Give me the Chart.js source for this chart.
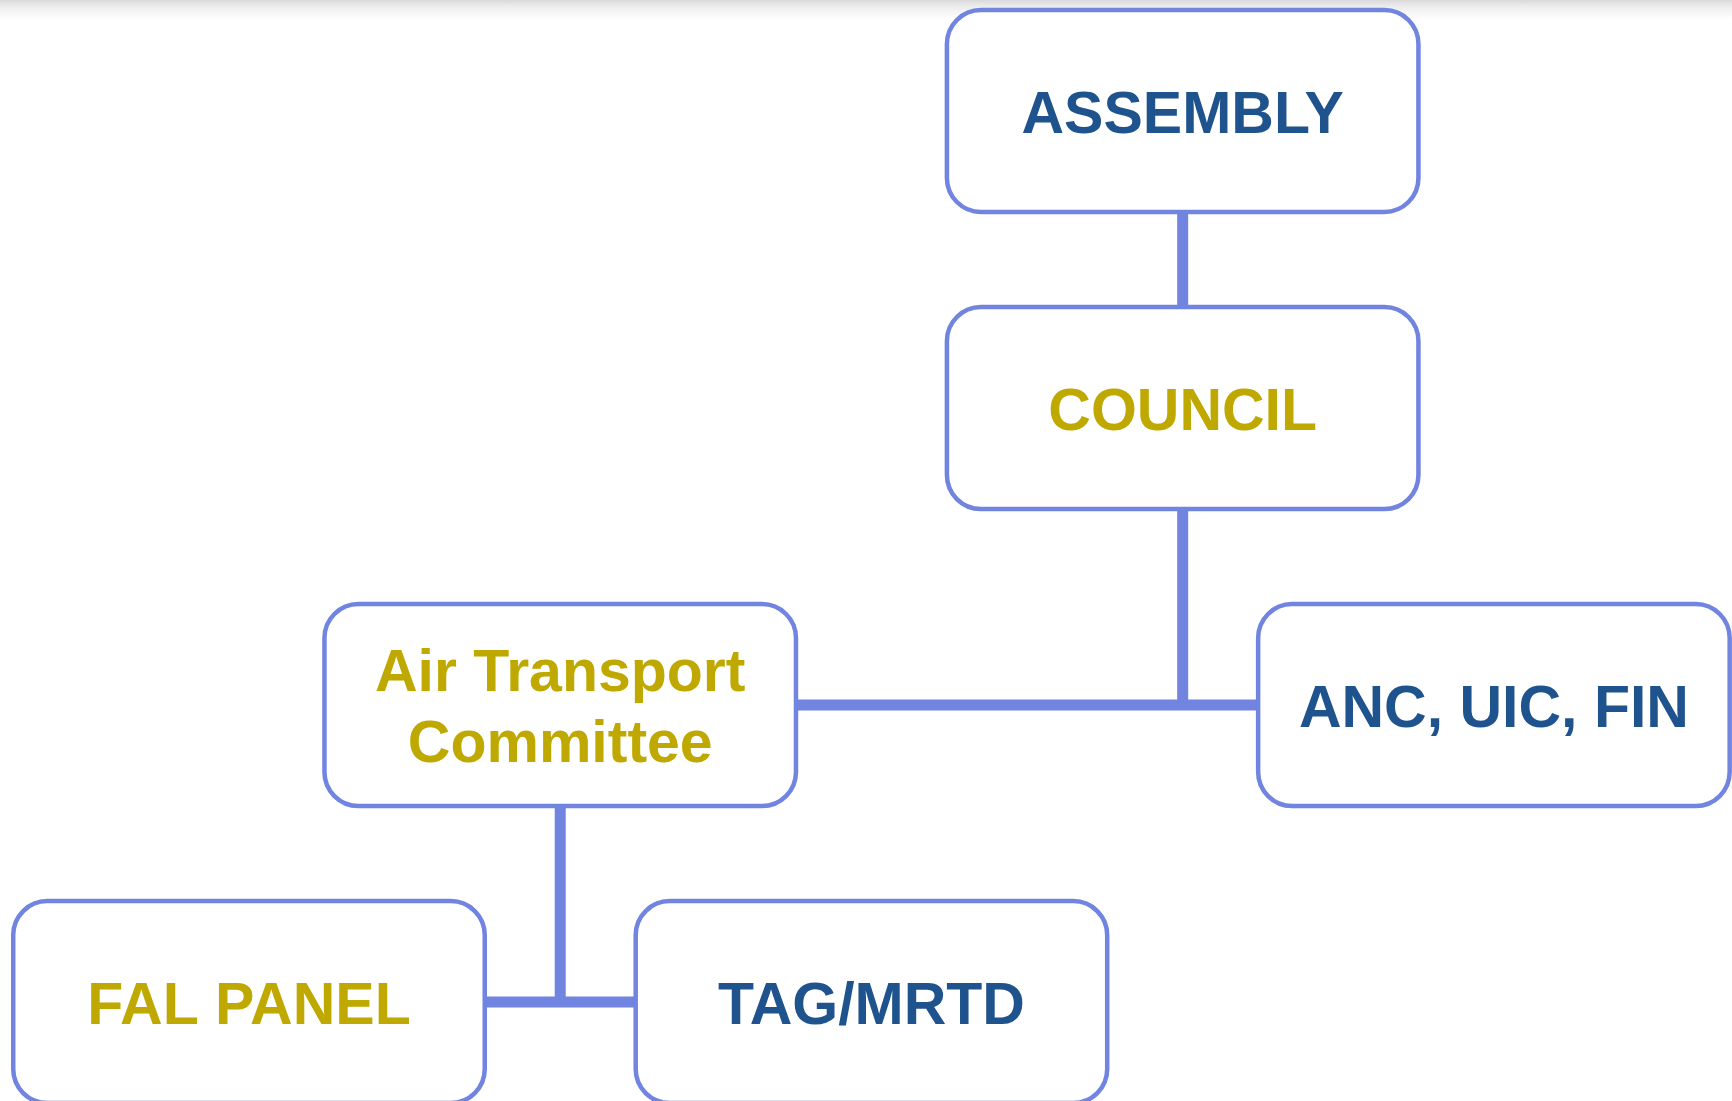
<!DOCTYPE html>
<html>
<head>
<meta charset="utf-8">
<script src="https://cdn.jsdelivr.net/npm/chart.js@4/dist/chart.umd.min.js"></script>
<style>
  html, body { margin: 0; padding: 0; }
  body {
    width: 1732px;
    height: 1101px;
    overflow: hidden;
    background: linear-gradient(#d9d9d9 0px, #ececec 6px, #f8f8f8 14px, #ffffff 19px);
  }
  #wrap { position: relative; width: 1732px; height: 1101px; }
</style>
</head>
<body>
<div id="wrap"><canvas id="chart"></canvas></div>
<script>
// org chart nodes: label, grid column, grid row, group
const nodeLabels = ["ASSEMBLY", "COUNCIL", "Air Transport\nCommittee", "ANC, UIC, FIN", "FAL PANEL", "TAG/MRTD"]
const nodeCols = [3, 3, 1, 4, 0, 2]
const nodeRows = [0, 1, 2, 2, 3, 3]
const nodeGroups = ["governing", "facilitation", "facilitation", "governing", "facilitation", "governing"]
// parent index -> child index
const links = [[0, 1], [1, 2], [1, 3], [2, 4], [2, 5]]

const groupColors = { governing: "#1f538d", facilitation: "#bfa900" }
const lineColor = "#7084e0"
const boxW = 1.515
const boxH = 0.68

function buildConnectors() {
  let segments = []
  let parents = [...new Set(links.map((l) => l[0]))]
  parents.forEach((p) => {
    let kids = links.filter((l) => l[0] === p).map((l) => l[1])
    let row = nodeRows[kids[0]]
    segments.push([{ x: nodeCols[p], y: nodeRows[p] }, { x: nodeCols[p], y: row }])
    let cols = kids.map((k) => nodeCols[k])
    let lo = Math.min(...cols, nodeCols[p])
    let hi = Math.max(...cols, nodeCols[p])
    if (hi > lo) segments.push([{ x: lo, y: row }, { x: hi, y: row }])
  })
  return segments
}

const connectorSets = buildConnectors().map((seg) => ({
  type: "line",
  data: seg,
  borderColor: lineColor,
  borderWidth: 11,
  borderCapStyle: "butt",
  pointRadius: 0,
  showLine: true,
}))

const boxPlugin = {
  id: "boxes",
  afterDatasetsDraw(chart) {
    const ctx = chart.ctx
    const xs = chart.scales.x
    const ys = chart.scales.y
    ctx.save()
    nodeLabels.forEach((label, i) => {
      const x0 = xs.getPixelForValue(nodeCols[i] - boxW / 2)
      const x1 = xs.getPixelForValue(nodeCols[i] + boxW / 2)
      const y0 = ys.getPixelForValue(nodeRows[i] - boxH / 2)
      const y1 = ys.getPixelForValue(nodeRows[i] + boxH / 2)
      ctx.beginPath()
      ctx.roundRect(x0, y0, x1 - x0, y1 - y0, 34)
      ctx.fillStyle = "#ffffff"
      ctx.fill()
      ctx.lineWidth = 4.5
      ctx.strokeStyle = lineColor
      ctx.stroke()

      const cx = xs.getPixelForValue(nodeCols[i])
      const cy = ys.getPixelForValue(nodeRows[i])
      const lines = label.split("\n")
      ctx.fillStyle = groupColors[nodeGroups[i]]
      ctx.font = "bold 59px 'Liberation Sans', Arial, sans-serif"
      ctx.textAlign = "center"
      ctx.textBaseline = "alphabetic"
      const lh = 71
      lines.forEach((t, j) => {
        const base = cy + 21.5 + (j - (lines.length - 1) / 2) * lh
        ctx.fillText(t, cx, base)
      })
    })
    ctx.restore()
  },
}

const config = {
  type: "scatter",
  data: { datasets: connectorSets },
  options: {
    responsive: true,
    maintainAspectRatio: false,
    animation: false,
    layout: { padding: 0 },
    plugins: {
      legend: { display: false },
      tooltip: { enabled: false },
    },
    scales: {
      x: { type: "linear", min: -0.8, max: 4.765, display: false },
      y: { type: "linear", min: -0.3737, max: 3.333, reverse: true, display: false },
    },
  },
  plugins: [boxPlugin],
}

const chart = new Chart(document.getElementById("chart"), config)
</script>
</body>
</html>
